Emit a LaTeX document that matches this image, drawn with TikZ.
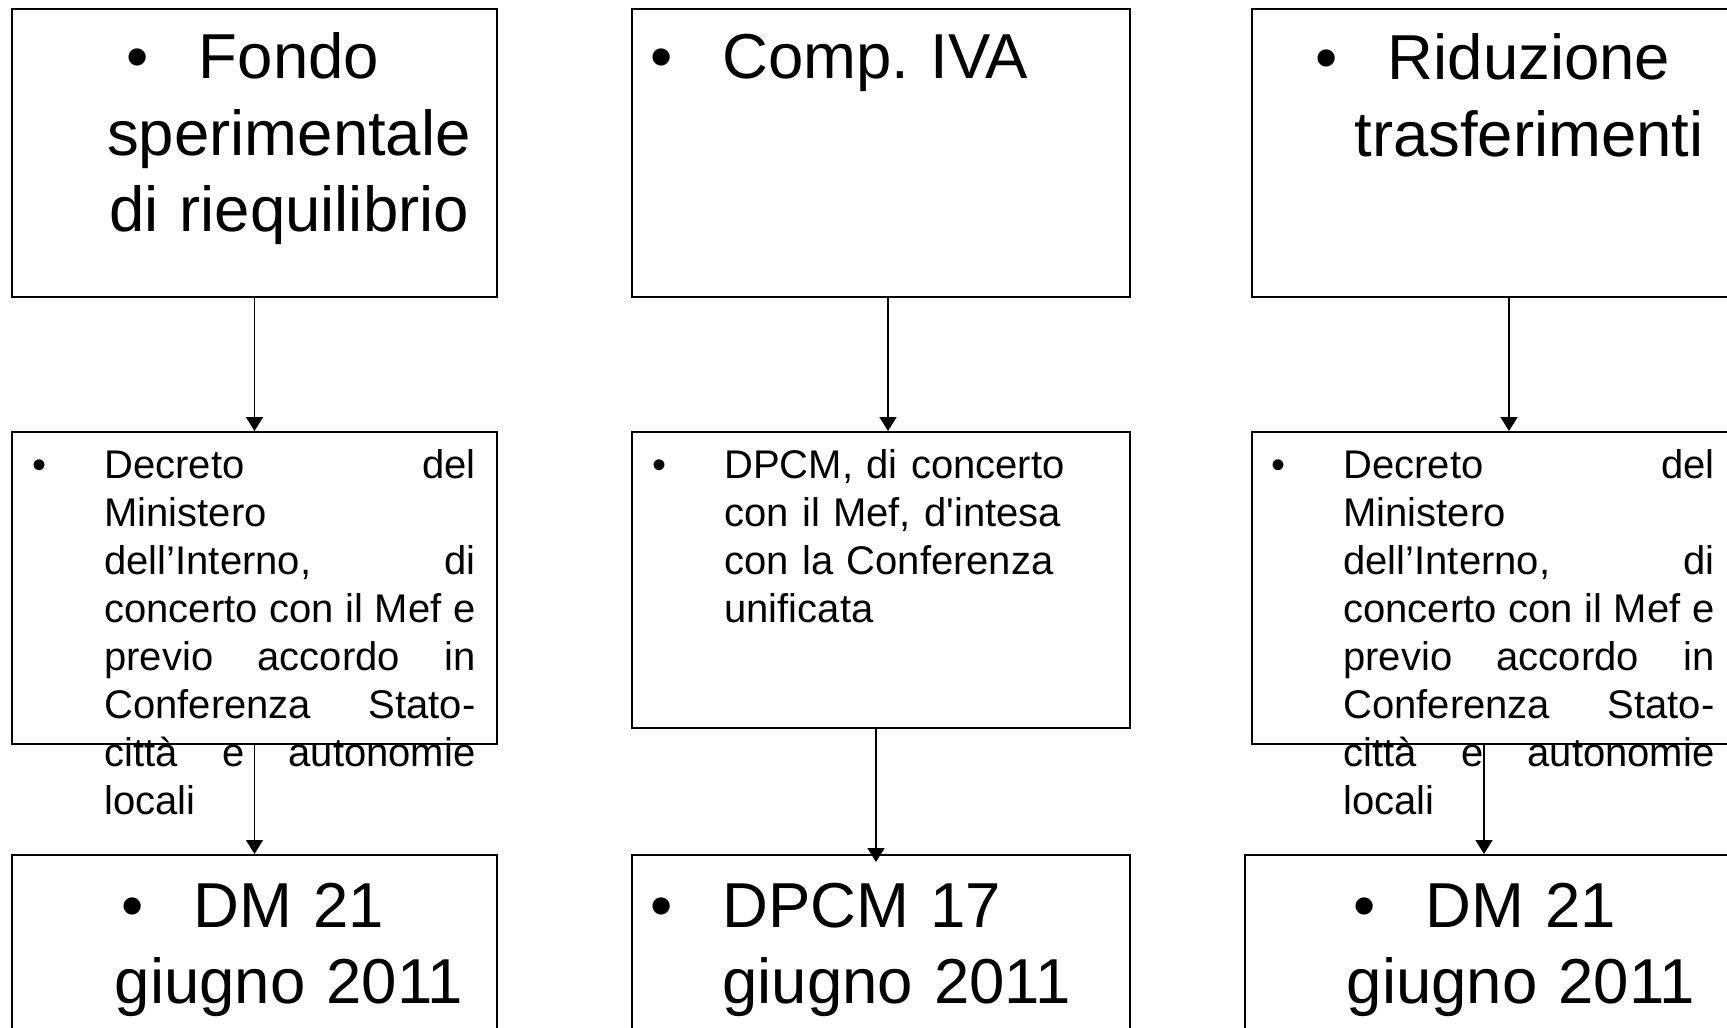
\documentclass[tikz,border=0pt]{standalone}
\usepackage{fontspec}
\setmainfont{Liberation Sans}
\usetikzlibrary{arrows.meta,calc}

\begin{document}
\begin{tikzpicture}[
    x=0.5pt, y=-0.5pt,
    box/.style={draw, line width=1pt, inner sep=0pt, anchor=north west},
    arr/.style={line width=0.75pt, -{Triangle[width=8.5pt,length=7pt]}},
    bigtxt/.style={inner sep=0pt, anchor=base, text width=210pt, align=center,
        font=\fontsize{31.75pt}{38.25pt}\selectfont\frenchspacing},
    bigleft/.style={inner sep=0pt, anchor=base west, text width=240pt, align=left,
        font=\fontsize{31.75pt}{38.25pt}\selectfont\frenchspacing},
    smalltxt/.style={inner sep=0pt, anchor=base west, text width=221.5pt,
        font=\fontsize{20pt}{24.05pt}\selectfont\frenchspacing}
]
\useasboundingbox (0,0) rectangle (1727,1027);

% top row
\node[box, minimum width=242.5pt, minimum height=144pt] (fondo) at (11,8) {};
\node[box, minimum width=249pt, minimum height=144pt] (iva) at (631,8) {};
\node[box, minimum width=258pt, minimum height=144pt] (riduz) at (1251,8) {};

% middle row
\node[box, minimum width=242.5pt, minimum height=156pt] (fondoDec) at (11,431) {};
\node[box, minimum width=249pt, minimum height=148pt] (ivaDec) at (631,431) {};
\node[box, minimum width=258pt, minimum height=156pt] (riduzDec) at (1251,431) {};

% bottom row
\node[box, minimum width=242.5pt, minimum height=144pt] (fondoDM) at (11,854) {};
\node[box, minimum width=249pt, minimum height=144pt] (ivaDM) at (631,854) {};
\node[box, minimum width=262pt, minimum height=144pt] (riduzDM) at (1244,854) {};

% texts
\node[bigtxt] (fondoTxt) at (289,79)
    {\llap{\makebox[36pt][l]{\textbullet}}Fondo\\sperimentale\\di riequilibrio};
\node[bigleft] (ivaTxt) at (650,79)
    {\makebox[36pt][l]{\textbullet}Comp. IVA};
\node[bigtxt] (riduzTxt) at (1529,80)
    {\llap{\makebox[36pt][l]{\textbullet}}Riduzione\\trasferimenti};

\node[smalltxt, align=justify] (fondoDecTxt) at (32,478)
    {\noindent\tolerance=10000\hangindent=36pt\hangafter=1%
     \makebox[36pt][l]{\textbullet}Decreto del\linebreak Ministero\newline
     dell’Interno, di\linebreak concerto con il Mef e\linebreak
     previo accordo in\linebreak Conferenza Stato-\linebreak
     città e autonomie\linebreak locali\par};
\node[smalltxt, align=left] (ivaDecTxt) at (652,478)
    {\noindent\hangindent=36pt\hangafter=1%
     \makebox[36pt][l]{\textbullet}DPCM, di concerto con il Mef,
     d\textquotesingle intesa con la Conferenza unificata\par};
\node[smalltxt, align=justify] (riduzDecTxt) at (1271,478)
    {\noindent\tolerance=10000\hangindent=36pt\hangafter=1%
     \makebox[36pt][l]{\textbullet}Decreto del\linebreak Ministero\newline
     dell’Interno, di\linebreak concerto con il Mef e\linebreak
     previo accordo in\linebreak Conferenza Stato-\linebreak
     città e autonomie\linebreak locali\par};

\node[bigtxt] (fondoDMTxt) at (289,927)
    {\llap{\makebox[36pt][l]{\textbullet}}DM 21\\giugno 2011};
\node[bigleft] (ivaDMTxt) at (650,927)
    {\noindent\hangindent=36pt\hangafter=1%
     \makebox[36pt][l]{\textbullet}DPCM 17\newline giugno 2011\par};
\node[bigtxt] (riduzDMTxt) at (1521,927)
    {\llap{\makebox[36pt][l]{\textbullet}}DM 21\\giugno 2011};

% connectors
\draw[arr] (fondo.south) -- (fondoDec.north);
\draw[arr] (fondoDec.south) -- (fondoDM.north);
\draw[arr] (iva.south -| 888,0) -- (ivaDec.north -| 888,0);
\draw[arr] (ivaDec.south -| 876,0) -- ($(ivaDM.north -| 876,0)+(0,8)$);
\draw[arr] (riduz.south -| 1509,0) -- (riduzDec.north -| 1509,0);
\draw[arr] (riduzDec.south -| 1484,0) -- (riduzDM.north -| 1484,0);

\end{tikzpicture}
\end{document}
